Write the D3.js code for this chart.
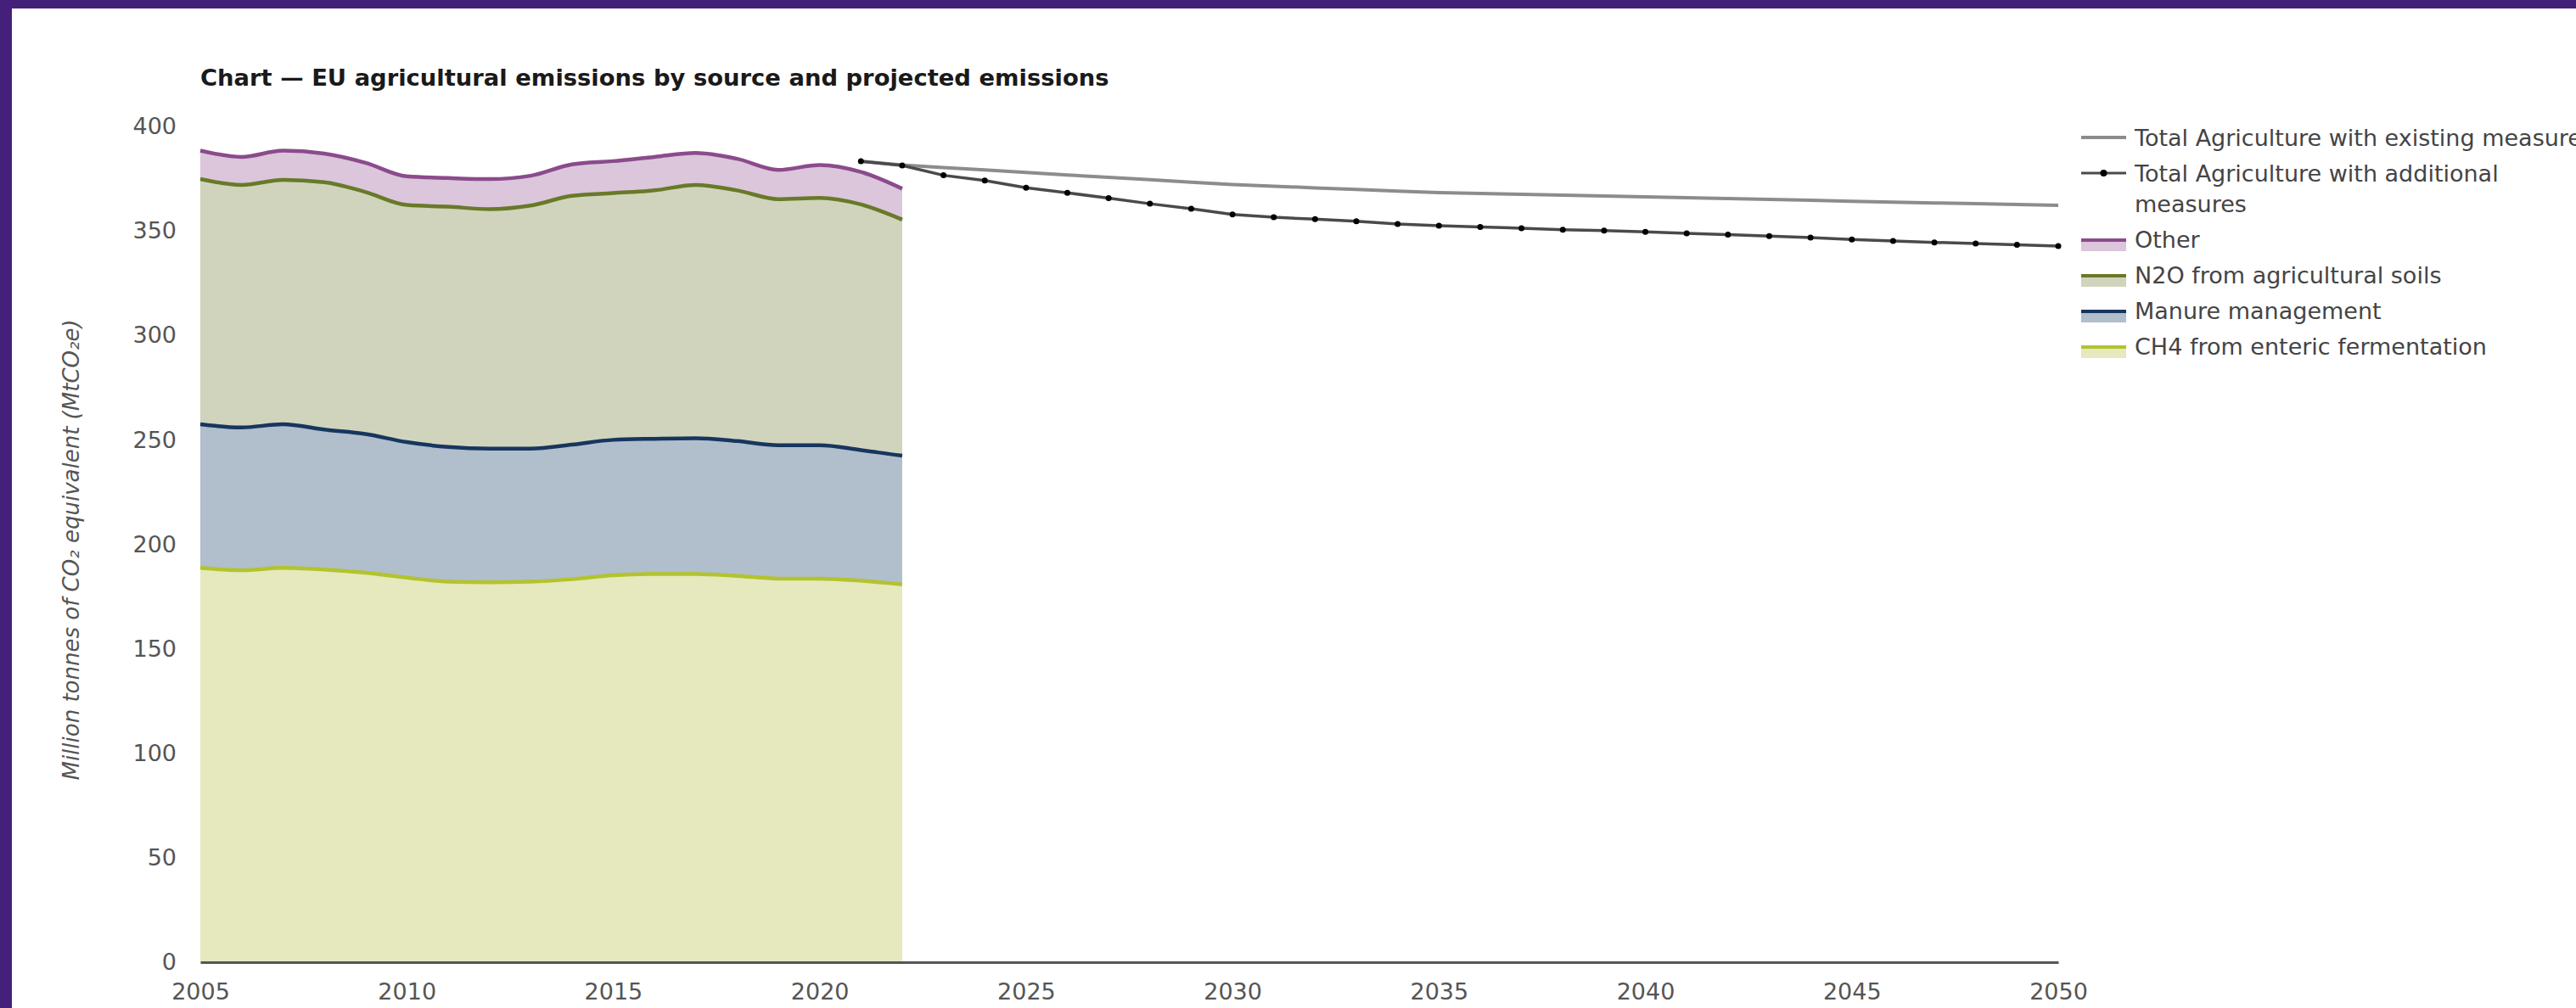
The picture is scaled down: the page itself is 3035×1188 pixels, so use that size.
<!DOCTYPE html>
<html>
<head>
<meta charset="utf-8">
<script src="https://cdn.jsdelivr.net/npm/d3@7"></script>
<style>
html, body { margin: 0; padding: 0; background: #45207a; overflow: hidden; }
svg { display: block; }
</style>
</head>
<body>
<svg id="chart" width="3035" height="1188"></svg>
<script>
// ---------- DATA ----------
const years = [2005,2006,2007,2008,2009,2010,2011,2012,2013,2014,2015,2016,2017,2018,2019,2020,2021,2022];
const ch4 = [188.7,187.6,188.7,187.9,186.4,184.1,182.1,181.8,182.1,183.3,185.2,185.8,185.8,184.9,183.6,183.6,182.6,180.8];
const manure = [68.8,68.3,68.8,67.0,66.4,64.8,64.5,64.0,63.7,64.4,64.8,64.7,65.0,64.5,63.8,63.8,62.5,61.6];
const n2o = [117.3,116.1,116.9,118.4,115.8,113.5,115.0,114.6,116.3,119.1,118.1,118.9,121.2,120.0,117.8,118.4,117.6,113.0];
const other = [13.6,13.4,14.0,13.7,14.0,13.7,13.7,14.4,14.3,15.0,15.3,16.0,15.3,15.1,14.0,15.7,15.5,14.8];

const projYears = [2021,2022,2023,2024,2025,2026,2027,2028,2029,2030,2031,2032,2033,2034,2035,2036,2037,2038,2039,2040,2041,2042,2043,2044,2045,2046,2047,2048,2049,2050];
const existing = [383.3,381.5,380.3,379.2,378.0,376.8,375.6,374.5,373.3,372.2,371.4,370.6,369.8,369.0,368.3,367.9,367.5,367.1,366.7,366.3,365.9,365.5,365.1,364.7,364.2,363.8,363.4,363.0,362.6,362.2];
const additional = [383.3,381.3,376.6,374.1,370.7,368.2,365.7,363.0,360.6,357.9,356.5,355.6,354.6,353.3,352.5,351.9,351.3,350.6,350.2,349.5,348.8,348.2,347.5,346.8,345.9,345.2,344.5,344.0,343.4,342.7];

const yTicks = [0,50,100,150,200,250,300,350,400];
const xTicks = [2005,2010,2015,2020,2025,2030,2035,2040,2045,2050];

const seriesKeys = ["ch4","manure","n2o","other"];
const seriesNames = ["CH4 from enteric fermentation","Manure management","N2O from agricultural soils","Other"];
const lineNames = ["Total Agriculture with existing measures","Total Agriculture with additional measures"];
const titleText = "Chart \u2014 EU agricultural emissions by source and projected emissions";
const yLabelText = "Million tonnes of CO\u2082 equivalent (MtCO\u2082e)";

// ---------- STYLE ----------
const fills = { ch4: "#e5e9bd", manure: "#b1becc", n2o: "#d0d4bc", other: "#dbc6db" };
const strokes = { ch4: "#b3c32e", manure: "#17365f", n2o: "#687a28", other: "#8b4b8c" };
const font = "DejaVu Sans, Verdana, sans-serif";

const W = 3035, H = 1188;
const svg = d3.select("#chart");

// frame
svg.append("rect").attr("x", 0).attr("y", 0).attr("width", W).attr("height", H).attr("fill", "#45207a");
svg.append("rect").attr("x", 14).attr("y", 10).attr("width", W - 14).attr("height", H - 10).attr("fill", "#ffffff");

const x = d3.scaleLinear().domain([2005, 2050]).range([236, 2425]);
const y = d3.scaleLinear().domain([0, 400]).range([1134, 149]);

// title
svg.append("text")
  .attr("x", 236).attr("y", 101)
  .attr("font-family", font).attr("font-weight", "bold").attr("font-size", 27.4)
  .attr("fill", "#1a1a1a")
  .text(titleText);

// stacked data
const table = years.map((yr, i) => ({ year: yr, ch4: ch4[i], manure: manure[i], n2o: n2o[i], other: other[i] }));
const stack = d3.stack().keys(seriesKeys);
const layers = stack(table);

const area = d3.area()
  .x(d => x(d.data.year))
  .y0(d => y(d[0]))
  .y1(d => y(d[1]))
  .curve(d3.curveMonotoneX);
const topLine = d3.line()
  .x(d => x(d.data.year))
  .y(d => y(d[1]))
  .curve(d3.curveMonotoneX);

const gA = svg.append("g");
gA.selectAll("path.area").data(layers).join("path")
  .attr("class", "area")
  .attr("d", area)
  .attr("fill", d => fills[d.key]);
gA.selectAll("path.top").data(layers).join("path")
  .attr("class", "top")
  .attr("d", topLine)
  .attr("fill", "none")
  .attr("stroke", d => strokes[d.key])
  .attr("stroke-width", 4.5);

// projections
const projLine = d3.line().x(d => x(d.year)).y(d => y(d.v)).curve(d3.curveLinear);
const existingData = projYears.map((yr, i) => ({ year: yr, v: existing[i] }));
const additionalData = projYears.map((yr, i) => ({ year: yr, v: additional[i] }));

svg.append("path").attr("d", projLine(existingData))
  .attr("fill", "none").attr("stroke", "#8c8c8c").attr("stroke-width", 4);
svg.append("path").attr("d", projLine(additionalData))
  .attr("fill", "none").attr("stroke", "#4a4a4a").attr("stroke-width", 3.5);
svg.append("g").selectAll("circle").data(additionalData).join("circle")
  .attr("cx", d => x(d.year)).attr("cy", d => y(d.v)).attr("r", 3.5)
  .attr("fill", "#000");

// axes
const xAxis = svg.append("g").attr("transform", `translate(0,${y(0)})`)
  .call(d3.axisBottom(x).tickValues(xTicks).tickFormat(d3.format("d")).tickSize(0).tickPadding(25));
xAxis.select(".domain").attr("stroke", "#555").attr("stroke-width", 3);
xAxis.selectAll("text").attr("font-family", font).attr("font-size", 27).attr("fill", "#555");

const yAxis = svg.append("g").attr("transform", `translate(${x(2005)},0)`)
  .call(d3.axisLeft(y).tickValues(yTicks).tickSize(0).tickPadding(28));
yAxis.select(".domain").remove();
yAxis.selectAll("text").attr("font-family", font).attr("font-size", 27).attr("fill", "#555");

// y label
svg.append("text")
  .attr("transform", `translate(93,648) rotate(-90)`)
  .attr("text-anchor", "middle")
  .attr("font-family", font).attr("font-style", "italic").attr("font-size", 26)
  .attr("fill", "#555")
  .text(yLabelText);

// legend
const legendItems = [
  { label: lineNames[0], type: "line" },
  { label: lineNames[1], type: "marker" },
  { label: seriesNames[3], type: "area", key: "other" },
  { label: seriesNames[2], type: "area", key: "n2o" },
  { label: seriesNames[1], type: "area", key: "manure" },
  { label: seriesNames[0], type: "area", key: "ch4" }
];
const lg = svg.append("g");
const symX0 = 2452, symX1 = 2505, textX = 2515;
const maxW = 555, lineH = 36, itemGap = 42;
let cy = 162;
legendItems.forEach(item => {
  const g = lg.append("g");
  if (item.type === "line") {
    g.append("line").attr("x1", symX0).attr("x2", symX1).attr("y1", cy).attr("y2", cy)
      .attr("stroke", "#8c8c8c").attr("stroke-width", 4);
  } else if (item.type === "marker") {
    g.append("line").attr("x1", symX0).attr("x2", symX1).attr("y1", cy).attr("y2", cy)
      .attr("stroke", "#4a4a4a").attr("stroke-width", 3);
    g.append("circle").attr("cx", (symX0 + symX1) / 2).attr("cy", cy).attr("r", 4).attr("fill", "#000");
  } else {
    g.append("rect").attr("x", symX0).attr("y", cy).attr("width", symX1 - symX0).attr("height", 14)
      .attr("fill", fills[item.key]);
    g.append("rect").attr("x", symX0).attr("y", cy - 1).attr("width", symX1 - symX0).attr("height", 4)
      .attr("fill", strokes[item.key]);
  }
  const t = g.append("text").attr("x", textX).attr("y", cy)
    .attr("font-family", font).attr("font-size", 27).attr("fill", "#444");
  // wrap
  const words = item.label.split(" ");
  let lines = [], cur = "";
  const probe = t.append("tspan");
  words.forEach(w => {
    const trial = cur ? cur + " " + w : w;
    probe.text(trial);
    if (probe.node().getComputedTextLength() > maxW && cur) { lines.push(cur); cur = w; }
    else cur = trial;
  });
  lines.push(cur);
  probe.remove();
  lines.forEach((ln, i) => {
    t.append("tspan").attr("x", textX).attr("dy", i === 0 ? "0.36em" : lineH).text(ln);
  });
  cy += itemGap + (lines.length - 1) * lineH;
});
</script>
</body>
</html>
